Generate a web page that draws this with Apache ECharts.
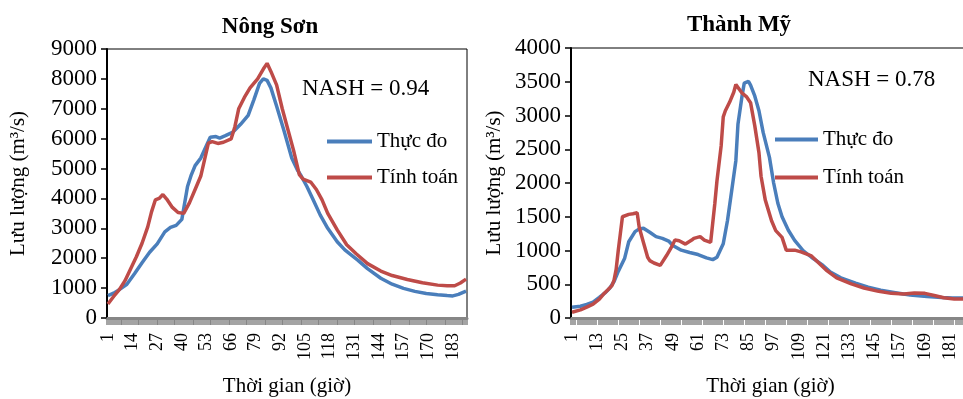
<!DOCTYPE html>
<html>
<head>
<meta charset="utf-8">
<script src="https://cdn.jsdelivr.net/npm/echarts@6/dist/echarts.min.js"></script>
<style>
  html, body { margin: 0; padding: 0; background: #fff; }
  #chart { width: 963px; height: 399px; }
</style>
</head>
<body>
<div id="chart"></div>
<script>
// Số giờ mô phỏng (trục hoành)
const HOURS = 190;
const hourLabels = [];
for (let h = 1; h <= HOURS; h++) hourLabels.push(String(h));

const seriesNames = ['Thực đo', 'Tính toán'];

// Trạm Nông Sơn: [giờ, lưu lượng m3/s]
const nongSonThucDo = [
  [1,750],[4,830],[7,950],[11,1130],[15,1480],[19,1850],[23,2200],[27,2480],[31,2880],
  [34,3030],[37,3100],[40,3300],[43,4400],[45,4790],[47,5100],[50,5350],[53,5770],[55,6050],
  [56,6080],[58,6070],[60,6020],[63,6100],[67,6220],[71,6480],[75,6780],[78,7300],[81,7850],
  [83,8000],[85,7950],[87,7700],[90,7090],[94,6250],[98,5350],[101,4950],[103,4750],[106,4400],
  [109,4000],[113,3450],[117,3000],[122,2550],[126,2280],[133,1930],[138,1650],[145,1330],
  [151,1130],[157,990],[163,890],[169,820],[175,780],[180,750],[183,740],[186,790],[190,900]
];
const nongSonTinhToan = [
  [1,470],[4,720],[7,950],[10,1250],[13,1650],[16,2050],[19,2500],[22,3050],[24,3550],
  [26,3950],[28,4000],[30,4130],[32,3980],[35,3700],[38,3530],[41,3500],[44,3850],[47,4300],
  [50,4750],[52,5300],[54,5850],[56,5900],[59,5840],[62,5880],[66,5990],[68,6400],[70,7000],
  [73,7380],[76,7700],[80,8000],[83,8330],[85,8520],[87,8250],[90,7800],[93,7000],[96,6300],
  [99,5600],[102,4800],[104,4650],[108,4550],[111,4300],[114,3950],[117,3500],[122,2950],
  [127,2450],[132,2150],[138,1820],[145,1570],[151,1420],[159,1290],[167,1180],[175,1100],
  [180,1080],[184,1080],[187,1170],[190,1300]
];

// Trạm Thành Mỹ: [giờ, lưu lượng m3/s]
const thanhMyThucDo = [
  [1,160],[5,175],[8,200],[11,235],[14,305],[17,380],[19,445],[21,540],[23,690],[26,880],
  [28,1130],[31,1280],[33,1320],[35,1330],[38,1270],[41,1205],[44,1180],[47,1140],[49,1075],
  [53,1005],[57,970],[61,940],[65,890],[68,865],[70,900],[73,1100],[75,1440],[77,1880],
  [79,2330],[80,2870],[82,3300],[83,3480],[85,3505],[86,3450],[88,3290],[90,3070],[92,2750],
  [95,2380],[97,2000],[99,1700],[101,1500],[104,1300],[107,1150],[111,1000],[115,900],
  [120,790],[124,680],[129,595],[136,515],[142,455],[148,410],[155,375],[162,340],[170,320],
  [177,305],[182,298],[190,296]
];
const thanhMyTinhToan = [
  [1,85],[5,120],[8,160],[11,205],[14,280],[16,355],[18,415],[20,480],[21,560],[22,720],
  [23,1000],[24,1250],[25,1500],[28,1535],[30,1545],[32,1560],[33,1340],[35,1120],[37,900],
  [38,850],[40,815],[43,780],[46,925],[48,1030],[50,1155],[52,1145],[55,1095],[58,1155],
  [59,1180],[62,1205],[64,1155],[67,1120],[69,1700],[70,2030],[72,2550],[73,2980],[74,3070],
  [76,3195],[78,3345],[79,3460],[82,3330],[84,3280],[86,3190],[88,2850],[90,2450],[91,2100],
  [93,1750],[96,1440],[98,1295],[101,1195],[103,1005],[107,1005],[110,980],[115,920],
  [118,830],[122,710],[127,595],[134,505],[140,445],[147,395],[153,365],[159,356],[164,370],
  [169,365],[174,330],[178,300],[183,282],[190,280]
];

const nashNongSon = '0.94';
const nashThanhMy = '0.78';

const FONT = '"Liberation Serif", "Times New Roman", serif';
const BLUE = '#4A7EBB';
const RED = '#BE4B48';

const toPoints = arr => arr.map(([h, v]) => [h - 1, v]);

function xAxisFor(gridIndex, labelStep) {
  return {
    type: 'category', gridIndex, data: hourLabels, boundaryGap: true,
    axisLine: { lineStyle: { color: '#868686', width: 3 } },
    axisTick: { show: true, interval: 0, length: 7, lineStyle: { color: '#868686', width: 1.5 } },
    axisLabel: { interval: labelStep, rotate: 90, fontSize: 18, color: '#000', margin: 15, fontFamily: FONT },
    splitLine: { show: false },
    name: 'Thời gian (giờ)', nameLocation: 'middle', nameGap: 58,
    nameTextStyle: { fontSize: 21, color: '#000', fontFamily: FONT }
  };
}

function yAxisFor(gridIndex, max, interval, nameGap) {
  return {
    type: 'value', gridIndex, min: 0, max, interval,
    axisLine: { show: true, lineStyle: { color: '#000', width: 2 } },
    axisTick: { show: true, length: 6, lineStyle: { color: '#000', width: 1.5 } },
    axisLabel: { fontSize: 23, color: '#000', margin: 10, fontFamily: FONT, formatter: v => String(v) },
    splitLine: { show: false },
    name: 'Lưu lượng (m³/s)', nameLocation: 'middle', nameRotate: 90, nameGap,
    nameTextStyle: { fontSize: 21, color: '#000', fontFamily: FONT }
  };
}

function lineSeries(name, color, idx, data) {
  return {
    name, type: 'line', xAxisIndex: idx, yAxisIndex: idx,
    data: toPoints(data), showSymbol: false, symbol: 'none',
    lineStyle: { color, width: 3.5 }, itemStyle: { color },
    animation: false
  };
}

const legendCommon = {
  orient: 'vertical', icon: 'rect', itemHeight: 4,
  textStyle: { fontSize: 21, color: '#000', fontFamily: FONT },
  data: seriesNames, selectedMode: false
};

const chart = echarts.init(document.getElementById('chart'));
chart.setOption({
  backgroundColor: '#fff',
  animation: false,
  textStyle: { fontFamily: FONT },
  grid: [
    { left: 107, top: 49, width: 360, height: 269, outerBoundsMode: 'none', containLabel: false,
      show: true, borderColor: '#000', borderWidth: 1 },
    { left: 571, top: 48, width: 399, height: 270, outerBoundsMode: 'none', containLabel: false,
      show: true, borderColor: '#000', borderWidth: 1 }
  ],
  xAxis: [xAxisFor(0, 12), xAxisFor(1, 11)],
  yAxis: [yAxisFor(0, 9000, 1000, 78), yAxisFor(1, 4000, 500, 66)],
  legend: [
    Object.assign({ left: 322, top: 126, itemWidth: 45, itemGap: 15 }, legendCommon),
    Object.assign({ left: 770, top: 124, itemWidth: 43, itemGap: 17 }, legendCommon)
  ],
  series: [
    lineSeries(seriesNames[0], BLUE, 0, nongSonThucDo),
    lineSeries(seriesNames[1], RED, 0, nongSonTinhToan),
    lineSeries(seriesNames[0], BLUE, 1, thanhMyThucDo),
    lineSeries(seriesNames[1], RED, 1, thanhMyTinhToan)
  ],
  graphic: [
    { type: 'text', x: 270, y: 27, style: { text: 'Nông Sơn', font: 'bold 23px ' + FONT, fill: '#000', align: 'center', verticalAlign: 'middle' } },
    { type: 'text', x: 739, y: 25, style: { text: 'Thành Mỹ', font: 'bold 23px ' + FONT, fill: '#000', align: 'center', verticalAlign: 'middle' } },
    { type: 'text', x: 302, y: 89, style: { text: 'NASH = ' + nashNongSon, font: '23px ' + FONT, fill: '#000', align: 'left', verticalAlign: 'middle' } },
    { type: 'text', x: 808, y: 80, style: { text: 'NASH = ' + nashThanhMy, font: '23px ' + FONT, fill: '#000', align: 'left', verticalAlign: 'middle' } }
  ]
});
</script>
</body>
</html>
